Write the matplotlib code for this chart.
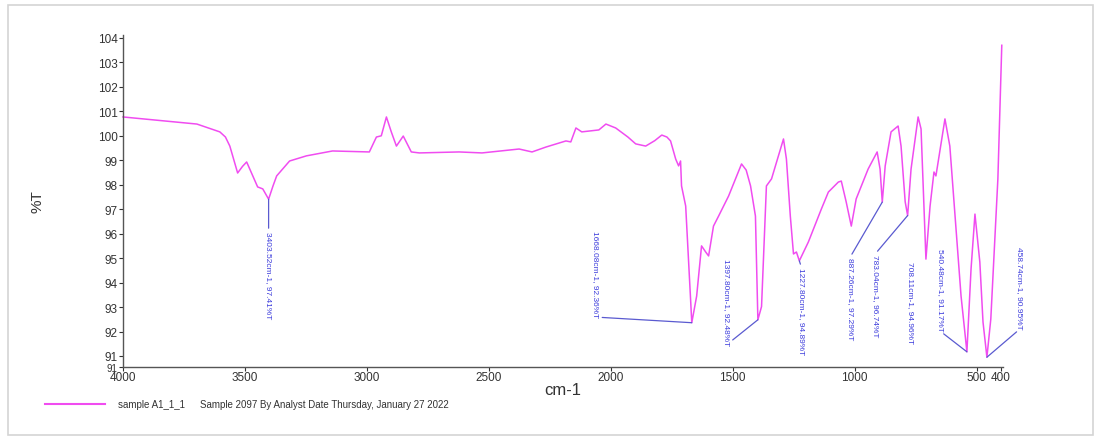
import matplotlib
matplotlib.use("Agg")
import matplotlib.pyplot as plt
from matplotlib.lines import Line2D
from matplotlib.patches import Rectangle

plt.rcParams['font.family'] = ['Liberation Sans', 'DejaVu Sans']

# spectrum (cm-1, %T)
WAVENUMBER = [4000, 3697, 3603, 3580, 3562, 3530, 3510, 3493, 3448, 3427, 3403, 3385,
              3370, 3317, 3248, 3141, 2990, 2961, 2941, 2920, 2900, 2879, 2851, 2818,
              2785, 2622, 2528, 2376, 2323, 2266, 2184, 2164, 2143, 2119, 2049, 2020,
              1980, 1930, 1898, 1857, 1820, 1791, 1770, 1755, 1734, 1722, 1714, 1710,
              1693, 1673, 1668, 1648, 1628, 1611, 1599, 1579, 1558, 1517, 1464, 1445,
              1427, 1407, 1397, 1382, 1362, 1341, 1292, 1280, 1264, 1251, 1239, 1227,
              1190, 1137, 1108, 1067, 1055, 1035, 1014, 994, 945, 908, 896, 887, 875,
              851, 822, 810, 793, 783, 769, 740, 728, 708, 691, 675, 667, 630, 610,
              564, 540, 523, 507, 487, 474, 458, 442, 413, 397]
TRANSMITTANCE = [100.77, 100.48, 100.16, 99.95, 99.58, 98.48, 98.75, 98.93, 97.91, 97.83,
                 97.41, 97.95, 98.36, 98.97, 99.18, 99.38, 99.34, 99.95, 100.0, 100.77,
                 100.16, 99.58, 99.99, 99.34, 99.3, 99.34, 99.3, 99.46, 99.34, 99.54,
                 99.79, 99.75, 100.32, 100.16, 100.24, 100.48, 100.32, 99.95, 99.67,
                 99.58, 99.8, 100.03, 99.95, 99.79, 99.05, 98.77, 98.97, 97.95, 97.13,
                 93.33, 92.36, 93.45, 95.5, 95.25, 95.09, 96.31, 96.72, 97.54, 98.85,
                 98.6, 97.95, 96.72, 92.48, 93.02, 97.95, 98.24, 99.87, 99.05, 96.72,
                 95.17, 95.25, 94.89, 95.66, 97.0, 97.7, 98.11, 98.15, 97.3, 96.31,
                 97.42, 98.64, 99.34, 98.64, 97.29, 98.77, 100.16, 100.4, 99.58, 97.3,
                 96.74, 98.64, 100.77, 100.28, 94.96, 97.13, 98.52, 98.36, 100.69,
                 99.58, 93.45, 91.17, 94.56, 96.8, 94.84, 92.39, 90.95, 92.51, 98.24,
                 103.7]

PEAK_LABELS = ["3403.52cm-1, 97.41%T", "1668.08cm-1, 92.36%T", "1397.80cm-1, 92.48%T",
               "1227.80cm-1, 94.89%T", "887.26cm-1, 97.29%T", "783.04cm-1, 96.74%T",
               "708.11cm-1, 94.96%T", "540.48cm-1, 91.17%T", "458.74cm-1, 90.95%T"]
PEAK_WN = [3403, 1668, 1397, 1227, 887, 783, 708, 540, 458]
PEAK_T = [97.41, 92.36, 92.48, 94.89, 97.29, 96.74, 94.96, 91.17, 90.95]

X_TICKS = [4000, 3500, 3000, 2500, 2000, 1500, 1000, 500, 400]
Y_TICKS = [91, 92, 93, 94, 95, 96, 97, 98, 99, 100, 101, 102, 103, 104]

LEGEND_NAME = "sample A1_1_1"
LEGEND_INFO = "Sample 2097 By Analyst Date Thursday, January 27 2022"

# where each label text sits (cm-1, %T, which end the leader joins, draw leader)
LABEL_POS = [(3403, 96.11, 'top', True), (2061, 92.59, 'bottom', True),
             (1526, 91.45, 'bottom', True), (1219, 94.64, 'top', True),
             (1018, 95.05, 'top', True), (916, 95.17, 'top', True),
             (773, 94.88, 'top', False), (650, 92.02, 'bottom', True),
             (323, 92.10, 'bottom', True)]

LINE_COLOR = "#f04cf0"
LABEL_COLOR = "#3c3cdc"
TEXT_COLOR = "#333333"

fig = plt.figure(figsize=(11, 4.39), dpi=100)
fig.patches.append(Rectangle((8 / 1100, 3 / 439), 1085 / 1100, 430 / 439,
                             transform=fig.transFigure, fill=False,
                             edgecolor="#d4d4d4", lw=1.2))

ax = fig.add_axes([123 / 1100, 71 / 439, 880 / 1100, 332 / 439])
ax.plot(WAVENUMBER, TRANSMITTANCE, color=LINE_COLOR, lw=1.1, clip_on=False)

ymin = 90.55
ax.set_xlim(4000, 392)
ax.set_ylim(ymin, 104.12)

ax.set_xticks(X_TICKS)
ax.set_xticklabels([str(t) for t in X_TICKS])
ax.set_yticks([ymin] + Y_TICKS)
ax.set_yticklabels(["91"] + [str(t) for t in Y_TICKS])
ax.tick_params(axis='both', direction='out', length=3, width=0.8,
               labelsize=8.5, colors=TEXT_COLOR, pad=1)
ax.tick_params(axis='x', pad=0)
# the axis-minimum "91" sits right under the "91" tick in the original
ax.get_yticklabels()[0].set_fontsize(7)

for side in ['top', 'right']:
    ax.spines[side].set_visible(False)
for side in ['left', 'bottom']:
    ax.spines[side].set_color("#555555")
    ax.spines[side].set_linewidth(1.0)

ax.set_xlabel("cm-1", fontsize=12, color=TEXT_COLOR, labelpad=-1)
ax.set_ylabel("%T", fontsize=11, color=TEXT_COLOR, labelpad=38)

for text, wn, t, (tx, ty, end, leader) in zip(PEAK_LABELS, PEAK_WN, PEAK_T, LABEL_POS):
    rel = (0.5, 1.0) if end == 'top' else (0.5, 0.0)
    arrow = dict(arrowstyle='-', color="#5a5ad0", lw=0.9, shrinkA=0, shrinkB=0,
                 relpos=rel) if leader else None
    ax.annotate(text, xy=(wn, t), xytext=(tx, ty), rotation=-90,
                ha='center', va=end, fontsize=6, color=LABEL_COLOR,
                arrowprops=arrow, annotation_clip=False)

# legend line and captions under the plot
fig.add_artist(Line2D([45 / 1100, 105 / 1100], [34 / 439, 34 / 439],
                      color=LINE_COLOR, lw=1.5))
fig.text(118 / 1100, 34 / 439, LEGEND_NAME, fontsize=7, color=TEXT_COLOR, va='center')
fig.text(200 / 1100, 34 / 439, LEGEND_INFO, fontsize=7, color=TEXT_COLOR, va='center')

fig.savefig("out.png", dpi=100)
